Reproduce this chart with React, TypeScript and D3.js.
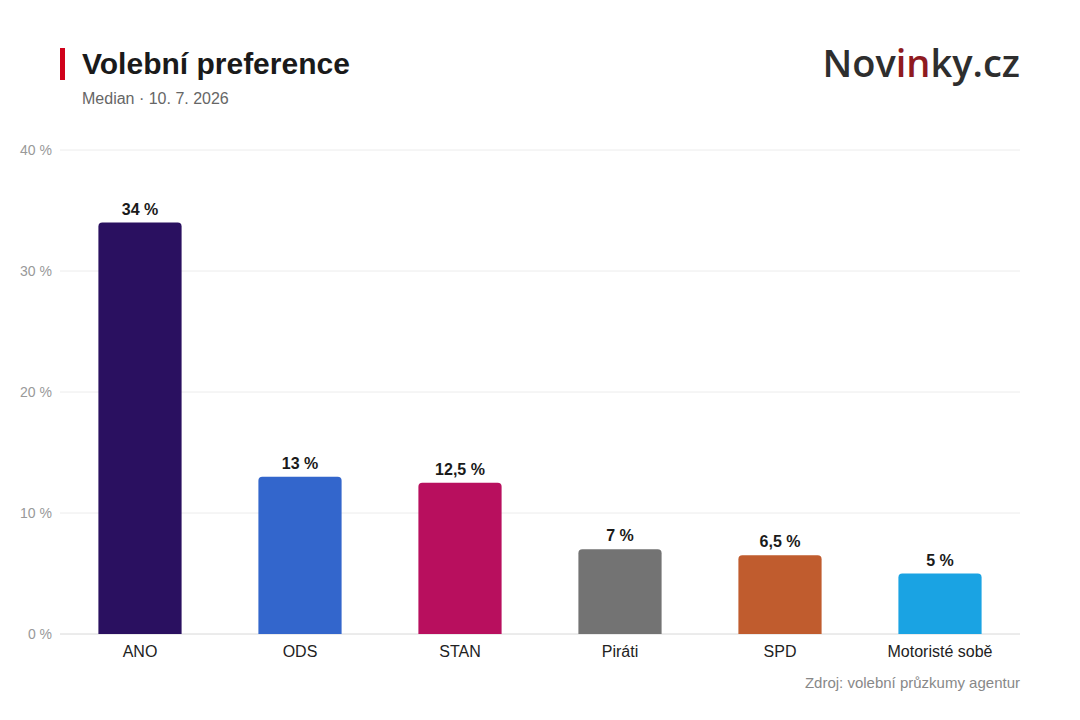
import { useEffect, useRef } from 'react';
import * as d3 from 'd3';

const parties = ['ANO', 'ODS', 'STAN', 'Piráti', 'SPD', 'Motoristé sobě'];
const shares = [34, 13, 12.5, 7, 6.5, 5];
const colors = ['#2a1060', '#3366cc', '#b80f5e', '#737373', '#c05c2e', '#1aa3e3'];
const yTicks = [0, 10, 20, 30, 40];

const FONT = '"Liberation Sans", Arial, Helvetica, sans-serif';

export default function App() {
  const svgRef = useRef<SVGSVGElement>(null);

  useEffect(() => {
    if (!svgRef.current) return;
    const W = 1080;
    const H = 720;
    const margin = { top: 150, right: 60, bottom: 86, left: 60 };
    const width = W - margin.left - margin.right;
    const height = H - margin.top - margin.bottom;

    const root = d3.select(svgRef.current);
    root.selectAll('*').remove();
    root.attr('viewBox', `0 0 ${W} ${H}`).attr('width', W).attr('height', H);

    root.append('rect').attr('width', W).attr('height', H).attr('fill', '#fff');

    // header
    root.append('rect').attr('x', 60).attr('y', 48).attr('width', 5).attr('height', 32).attr('fill', '#d0021b');
    root
      .append('text')
      .attr('x', 82)
      .attr('y', 74)
      .attr('font-family', FONT)
      .attr('font-size', 30)
      .attr('font-weight', 'bold')
      .attr('fill', '#1a1a1a')
      .text('Volební preference');
    root
      .append('text')
      .attr('x', 82)
      .attr('y', 104)
      .attr('font-family', FONT)
      .attr('font-size', 16)
      .attr('fill', '#666')
      .text('Median · 10. 7. 2026');

    const logo = root
      .append('text')
      .attr('x', 1020)
      .attr('y', 77)
      .attr('text-anchor', 'end')
      .attr('font-family', '"Open Sans", "Noto Sans", sans-serif')
      .attr('font-size', 38)
      .attr('font-weight', 600)
      .attr('fill', '#2e2e2e');
    logo.append('tspan').text('Nov');
    logo.append('tspan').attr('fill', '#8f1a20').text('in');
    logo.append('tspan').text('ky.cz');

    const g = root.append('g').attr('transform', `translate(${margin.left},${margin.top})`);

    const x = d3.scaleBand<string>().domain(parties).range([0, width]).paddingInner(0.48).paddingOuter(0.24);
    const y = d3.scaleLinear().domain([0, 40]).range([height, 0]);

    // grid + y labels
    const grid = g.append('g');
    grid
      .selectAll('line')
      .data(yTicks)
      .join('line')
      .attr('x1', 0)
      .attr('x2', width)
      .attr('y1', (d) => y(d))
      .attr('y2', (d) => y(d))
      .attr('stroke', (d) => (d === 0 ? '#d8d8d8' : '#ececec'))
      .attr('stroke-width', 1);
    grid
      .selectAll('text')
      .data(yTicks)
      .join('text')
      .attr('x', -8)
      .attr('y', (d) => y(d))
      .attr('dy', '0.35em')
      .attr('text-anchor', 'end')
      .attr('font-family', FONT)
      .attr('font-size', 14)
      .attr('fill', '#999')
      .text((d) => `${d} %`);

    const r = 4;
    const data = parties.map((p, i) => ({ p, v: shares[i], c: colors[i] }));

    g.selectAll('.bar')
      .data(data)
      .join('path')
      .attr('class', 'bar')
      .attr('fill', (d) => d.c)
      .attr('d', (d) => {
        const x0 = x(d.p) ?? 0;
        const bw = x.bandwidth();
        const y0 = y(d.v);
        const yb = y(0);
        return `M${x0},${yb} L${x0},${y0 + r} Q${x0},${y0} ${x0 + r},${y0} L${x0 + bw - r},${y0} Q${x0 + bw},${y0} ${x0 + bw},${y0 + r} L${x0 + bw},${yb} Z`;
      });

    g.selectAll('.val')
      .data(data)
      .join('text')
      .attr('class', 'val')
      .attr('x', (d) => (x(d.p) ?? 0) + x.bandwidth() / 2)
      .attr('y', (d) => y(d.v) - 8)
      .attr('text-anchor', 'middle')
      .attr('font-family', FONT)
      .attr('font-size', 16)
      .attr('font-weight', 'bold')
      .attr('fill', '#1a1a1a')
      .text((d) => `${String(d.v).replace('.', ',')} %`);

    g.selectAll('.cat')
      .data(data)
      .join('text')
      .attr('class', 'cat')
      .attr('x', (d) => (x(d.p) ?? 0) + x.bandwidth() / 2)
      .attr('y', height + 23)
      .attr('text-anchor', 'middle')
      .attr('font-family', FONT)
      .attr('font-size', 16)
      .attr('fill', '#222')
      .text((d) => d.p);

    root
      .append('text')
      .attr('x', 1020)
      .attr('y', 688)
      .attr('text-anchor', 'end')
      .attr('font-family', FONT)
      .attr('font-size', 15)
      .attr('fill', '#888')
      .text('Zdroj: volební průzkumy agentur');
  }, []);

  return (
    <div style={{ margin: -8 }}>
      <svg ref={svgRef} style={{ display: 'block' }} />
    </div>
  );
}
